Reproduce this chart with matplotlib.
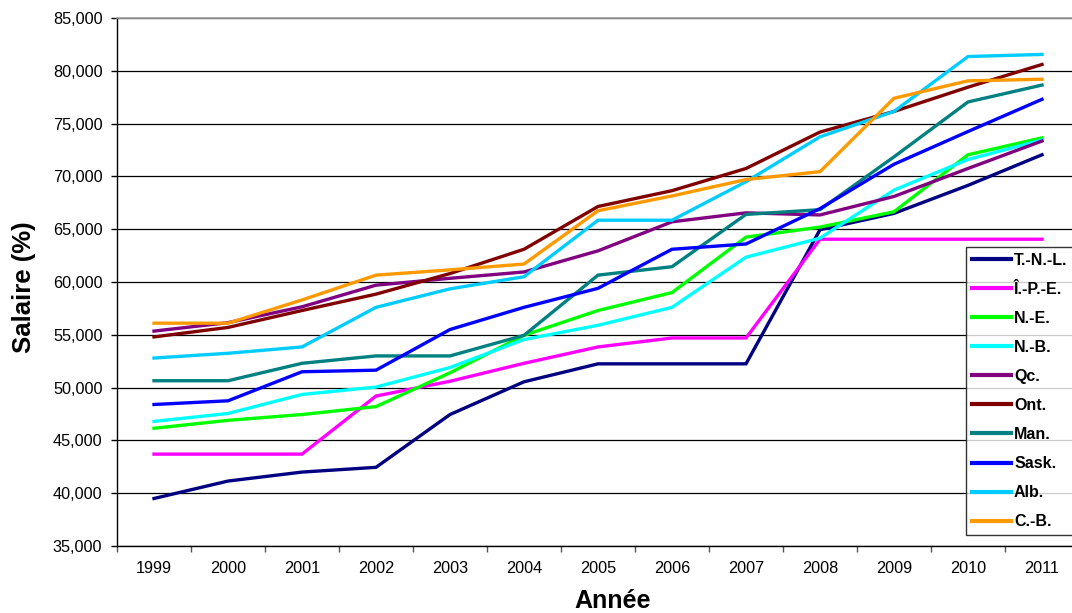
import matplotlib
matplotlib.use("Agg")
import matplotlib.pyplot as plt
from matplotlib.ticker import FuncFormatter, FixedLocator

plt.rcParams['font.family'] = ['Liberation Sans', 'DejaVu Sans']

years = ["1999", "2000", "2001", "2002", "2003", "2004", "2005",
         "2006", "2007", "2008", "2009", "2010", "2011"]

tnl = [39500, 41150, 42000, 42450, 47450, 50550, 52250, 52250, 52250, 64950, 66500, 69150, 72050]
ipe = [43700, 43700, 43700, 49200, 50600, 52300, 53850, 54700, 54700, 64050, 64050, 64050, 64050]
ne = [46150, 46900, 47450, 48200, 51400, 54950, 57300, 59000, 64250, 65200, 66650, 72050, 73650]
nb = [46800, 47550, 49350, 50050, 51900, 54550, 55900, 57600, 62350, 64150, 68700, 71600, 73450]
qc = [55350, 56150, 57650, 59700, 60350, 60950, 62950, 65700, 66550, 66350, 68100, 70750, 73350]
ont = [54800, 55700, 57300, 58850, 60800, 63100, 67150, 68650, 70750, 74200, 76150, 78450, 80600]
man = [50650, 50650, 52300, 53000, 53000, 54950, 60650, 61450, 66400, 66850, 71850, 77050, 78650]
sask = [48400, 48750, 51500, 51650, 55500, 57600, 59400, 63100, 63600, 66950, 71150, 74250, 77300]
alb = [52800, 53250, 53850, 57600, 59350, 60500, 65850, 65850, 69500, 73750, 76150, 81350, 81550]
cb = [56100, 56100, 58300, 60650, 61150, 61700, 66750, 68150, 69700, 70450, 77400, 79050, 79200]

labels = ["T.-N.-L.", "Î.-P.-E.", "N.-E.", "N.-B.", "Qc.", "Ont.",
          "Man.", "Sask.", "Alb.", "C.-B."]
series = [tnl, ipe, ne, nb, qc, ont, man, sask, alb, cb]
colors = ["#000080", "#FF00FF", "#00FF00", "#00FFFF", "#800080", "#800000",
          "#008080", "#0000FF", "#00CCFF", "#FF9900"]

fig = plt.figure(figsize=(10.72, 6.13), dpi=100)
ax = fig.add_axes([117/1072, 1-546/613, (1079-117)/1072, 528/613])

x = list(range(len(years)))
for s, lab, c in zip(series, labels, colors):
    ax.plot(x, s, color=c, lw=2.4, label=lab, solid_joinstyle='miter')

ax.set_xlim(-0.5, len(years)-0.5)
ax.set_ylim(35000, 85000)
ax.set_yticks(range(35000, 85001, 5000))
ax.yaxis.set_major_formatter(FuncFormatter(lambda v, p: f"{int(v):,}"))
ax.set_xticks(x)
ax.set_xticklabels(years)
ax.xaxis.set_minor_locator(FixedLocator([i - 0.5 for i in range(len(years)+1)]))
ax.tick_params(axis='x', which='major', length=0, pad=11, labelsize=11.7)
ax.tick_params(axis='x', which='minor', length=4, width=1, color='#555555')
ax.tick_params(axis='y', length=4, width=1, pad=6.5, labelsize=11.7)

ax.grid(axis='y', color='black', lw=0.9)
ax.set_axisbelow(True)
ax.spines['right'].set_visible(False)
ax.spines['top'].set_color('#a0a0a0')
ax.spines['top'].set_linewidth(1.2)
ax.spines['left'].set_linewidth(1.0)
ax.spines['bottom'].set_linewidth(1.0)

fig.text(612.5/1072, 1-608/613, "Année", ha='center', va='baseline',
         fontsize=18, fontweight='bold')
fig.text(24.5/1072, 1-287/613, "Salaire (%)", ha='center', va='center',
         fontsize=18.5, fontweight='bold', rotation=90)

leg = ax.legend(loc='upper left', bbox_to_anchor=(966/1072, 1-247/613),
                bbox_transform=fig.transFigure, frameon=True, fancybox=False,
                prop={'weight': 'bold', 'size': 11.5},
                handlelength=2.45, handletextpad=0.2, labelspacing=0.88,
                borderpad=0.36, borderaxespad=0)
leg.get_frame().set_edgecolor('black')
leg.get_frame().set_linewidth(1.0)
for h in leg.get_lines():
    h.set_linewidth(3)

fig.savefig("out.png", dpi=100)
